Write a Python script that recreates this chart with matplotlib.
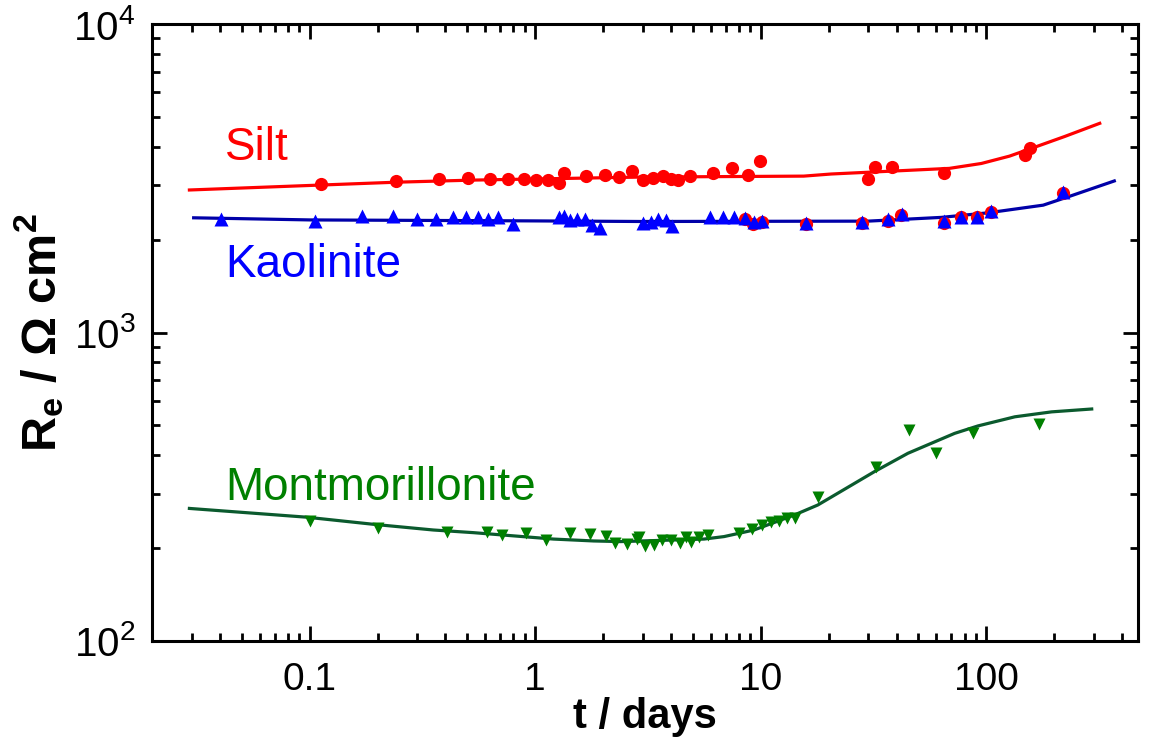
import numpy as np
import matplotlib
matplotlib.use("Agg")
import matplotlib.pyplot as plt
from matplotlib.ticker import LogLocator, NullFormatter

plt.rcParams['font.family'] = ['Liberation Sans', 'DejaVu Sans']
plt.rcParams['mathtext.fontset'] = 'custom'
plt.rcParams['mathtext.rm'] = 'Liberation Sans'
plt.rcParams['mathtext.bf'] = 'Liberation Sans:bold'
plt.rcParams['mathtext.it'] = 'Liberation Sans:italic'

# silt
silt_t = [0.112, 0.241, 0.374, 0.502, 0.631, 0.761, 0.894, 1.01, 1.134, 1.27, 1.346,
          1.687, 2.03, 2.356, 2.69, 3.01, 3.33, 3.67, 3.98, 4.31, 4.83, 6.15, 7.43,
          8.73, 9.94, 30.0, 32.1, 38.1, 64.7, 147.6, 155.5]
silt_r = [3029, 3098, 3147, 3178, 3155, 3155, 3141, 3119, 3119, 3062, 3283,
          3215, 3249, 3201, 3333, 3119, 3178, 3208, 3141, 3119, 3208, 3296, 3406,
          3240, 3606, 3152, 3447, 3447, 3290, 3758, 3953]
silt_fit_t = [0.0293, 0.241, 0.53, 2.93, 15.5, 20.5, 68.5, 95, 126.6, 158.5, 222, 318]
silt_fit_r = [2897, 3070, 3119, 3190, 3213, 3264, 3404, 3531, 3730, 3953, 4317, 4765]

# red circles hidden under the kaolinite triangles
red2_t = [8.5, 9.25, 10.17, 15.8, 28.0, 36.5, 42.0, 64.7, 76.9, 90.9, 104.3, 219]
red2_r = [2330, 2248, 2275, 2245, 2270, 2296, 2400, 2270, 2361, 2361, 2460, 2840]

# kaolinite
kao_t = [0.0406, 0.106, 0.17, 0.234, 0.298, 0.362, 0.43, 0.494, 0.556, 0.62, 0.687,
         0.796, 1.27, 1.337, 1.43, 1.53, 1.66, 1.79, 1.94, 3.01, 3.27, 3.5, 3.78,
         4.02, 5.95, 6.8, 7.6, 8.5, 9.33, 10.17, 15.8, 28.0, 36.8, 42.2, 64.9,
         76.9, 90.9, 104.3, 219]
kao_r = [2335, 2296, 2387, 2387, 2335, 2335, 2372, 2361, 2372, 2335, 2361,
         2248, 2372, 2387, 2317, 2335, 2335, 2228, 2176, 2258, 2285, 2330, 2317,
         2218, 2361, 2372, 2361, 2344, 2275, 2296, 2258, 2285, 2330, 2415, 2296,
         2372, 2372, 2484, 2858]
kao_fit_t = [0.0306, 0.1, 1.0, 2.93, 29.8, 63, 101.6, 178.6, 230.6, 369]
kao_fit_r = [2354, 2317, 2300, 2290, 2296, 2361, 2443, 2587, 2754, 3099]

# montmorillonite
mont_t = [0.1, 0.201, 0.408, 0.61, 0.711, 0.912, 1.12, 1.43, 1.74, 2.05, 2.25, 2.56,
          2.83, 2.88, 3.08, 3.36, 3.66, 3.98, 4.38, 4.64, 4.88, 5.32, 5.83, 8.01,
          9.1, 10.17, 11.1, 12.05, 13.1, 14.15, 18.0, 32.4, 45.2, 60.0, 87.3, 170.6]
mont_r = [245, 233, 226, 225, 221, 223.5, 212, 223.5, 222, 219, 208, 206,
          214, 217, 203, 205, 212, 212, 208, 218, 210, 217, 221, 223.5,
          231, 238, 243, 245, 250, 250, 292, 367, 483, 406, 473, 505]
mont_fit_t = [0.0293, 0.0967, 0.191, 0.353, 0.532, 1.205, 1.815, 2.39, 5.6, 6.87,
              9.33, 14.06, 17.9, 31.9, 44.9, 72.3, 91.8, 133.7, 194.5, 293]
mont_fit_r = [269, 252, 239, 229, 224.5, 214, 211, 210, 214, 218,
              229, 256, 276, 354, 406, 471, 498, 533, 553, 565]

fig = plt.figure(figsize=(11.56, 7.4), dpi=100)
ax = fig.add_axes([152 / 1156, 1 - 641 / 740, 986 / 1156, 617 / 740])

ax.plot(silt_fit_t, silt_fit_r, '-', color='#ff0000', lw=2.3, zorder=2)
ax.plot(silt_t, silt_r, 'o', color='#ff0000', ms=9.5, mec='none', zorder=3)
ax.plot(red2_t, red2_r, 'o', color='#ff0000', ms=9.5, mec='none', zorder=3)
ax.plot(kao_fit_t, kao_fit_r, '-', color='#0000a8', lw=2.3, zorder=2)
ax.plot(kao_t, kao_r, '^', color='#0000ff', ms=9.5, mec='none', zorder=4)
ax.plot(mont_fit_t, mont_fit_r, '-', color='#0b5a2e', lw=2.3, zorder=2)
ax.plot(mont_t, mont_r, 'v', color='#008000', ms=8.5, mec='none', zorder=3)

ax.text(0.0423, 3623, 'Silt', color='#ff0000', fontsize=33, ha='left', va='baseline')
ax.text(0.0423, 1514, 'Kaolinite', color='#0000ff', fontsize=33, ha='left', va='baseline')
ax.text(0.0423, 286, 'Montmorillonite', color='#008000', fontsize=33, ha='left', va='baseline')

ax.set_xscale('log')
ax.set_yscale('log')
ax.set_xlim(0.02, 470)
ax.set_ylim(100, 10000)
ax.xaxis.set_minor_locator(LogLocator(base=10, subs=np.arange(2, 10)))
ax.yaxis.set_minor_locator(LogLocator(base=10, subs=np.arange(2, 10)))
ax.xaxis.set_minor_formatter(NullFormatter())
ax.yaxis.set_minor_formatter(NullFormatter())
ax.set_xticks([0.1, 1, 10, 100])
ax.set_xticklabels(['0.1', '1', '10', '100'])

ax.tick_params(which='both', direction='in', top=True, right=True)
ax.tick_params(which='major', length=11, width=2)
ax.tick_params(which='minor', length=6, width=2)
ax.tick_params(axis='x', which='major', labelsize=28, pad=15)
ax.tick_params(axis='y', which='major', labelsize=29, pad=12)
for s in ax.spines.values():
    s.set_linewidth(2.2)

ax.set_xlabel('t / days', fontsize=30, fontweight='bold')
ax.xaxis.set_label_coords(0.5, -0.09)
ax.set_ylabel(r'R$_\mathbf{e}$ / Ω cm$^\mathbf{2}$', fontsize=35, fontweight='bold')
ax.yaxis.set_label_coords(-0.087, 0.5)

fig.savefig('out.png', dpi=100)
